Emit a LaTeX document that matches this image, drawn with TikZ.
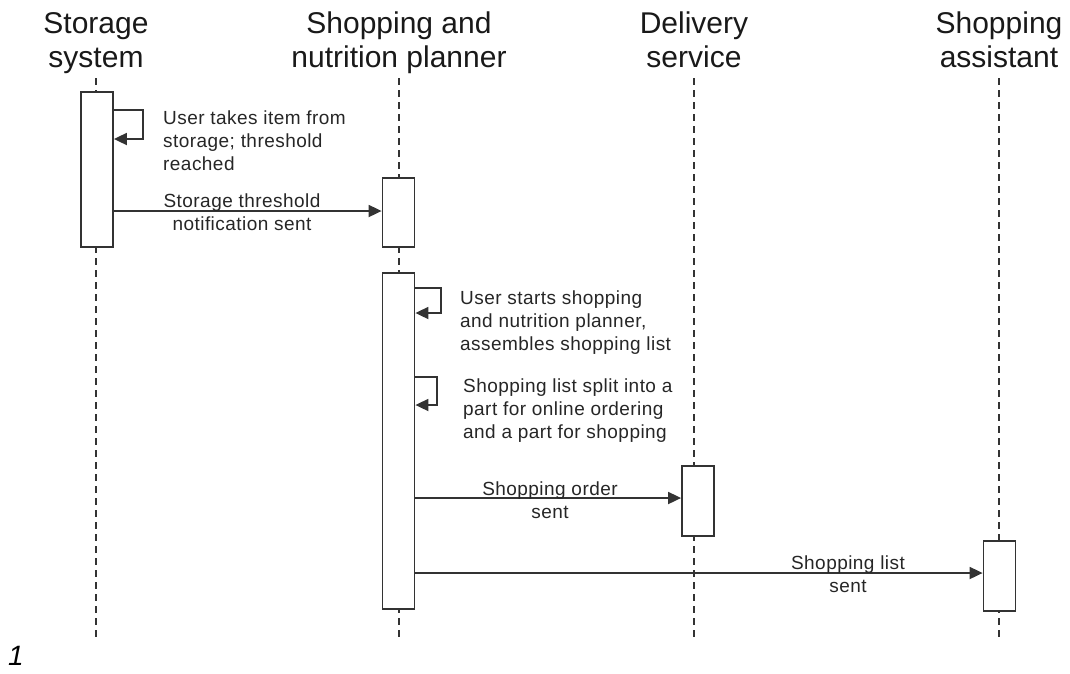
\documentclass[tikz,border=0pt]{standalone}
\usepackage{fontspec}
\setmainfont{Liberation Sans}
\usetikzlibrary{arrows.meta}
\begin{document}
\begin{tikzpicture}[x=1pt,y=-1pt,
  ink/.style={draw=black!80,line width=1.8pt},
  lifeline/.style={ink,dash pattern=on 7pt off 5pt},
  actbox/.style={ink,fill=white,rectangle,minimum width=32pt,inner sep=0pt,anchor=north},
  head/.style={align=center,anchor=north,text=black!90,inner sep=0pt,
    font=\fontsize{30}{34}\selectfont},
  msg/.style={ink,-{Triangle[length=13pt,width=12pt]}},
  lbl/.style={align=center,text=black!85,inner sep=0pt,
    font=\fontsize{19}{23}\selectfont\addfontfeatures{LetterSpace=2.4}},
  note/.style={lbl,align=left,anchor=north west}]
\useasboundingbox (0,0) rectangle (1070,673);

% participant headings (each line carries a strut so all headings align)
\node[head] (hA) at (96,9) {\strut Storage\\\strut system};
\node[head] (hB) at (399,9) {\strut Shopping and\\\strut nutrition planner};
\node[head] (hC) at (694,9) {\strut Delivery\\\strut service};
\node[head] (hD) at (999,9) {\strut Shopping\\\strut assistant};

% lifeline ends
\coordinate (tA) at (96,78);  \coordinate (bA) at (96,640);
\coordinate (tB) at (399,78); \coordinate (bB) at (399,640);
\coordinate (tC) at (694,78); \coordinate (bC) at (694,640);
\coordinate (tD) at (999,78); \coordinate (bD) at (999,640);
\draw[lifeline] (tA) -- (bA);
\draw[lifeline] (tB) -- (bB);
\draw[lifeline] (tC) -- (bC);
\draw[lifeline] (tD) -- (bD);

% activation bars
\node[actbox,minimum height=155pt] (sA) at (97,91) {};
\node[actbox,minimum height=69pt] (sB1) at (398.5,177) {};
\node[actbox,minimum height=336pt] (sB2) at (398.5,272) {};
\node[actbox,minimum height=70pt] (sC) at (698,465) {};
\node[actbox,minimum height=70pt] (sD) at (999.5,540) {};

% self message on the storage system
\coordinate (s1a) at (143,110);
\coordinate (s1b) at (143,139);
\draw[msg] (sA.east |- s1a) -- (s1a) -- (s1b) -- (sA.east |- s1b);
\node[note] (n1) at (163,111) {User takes item from\\storage; threshold\\reached};

% threshold notification
\draw[msg] (sA.east |- 0,211) -- (sB1.west |- 0,211);
\node[lbl] (l1) at (242,212) {Storage threshold\\notification sent};

% self messages on the planner
\coordinate (s2a) at (441,288);
\coordinate (s2b) at (441,313);
\draw[msg] (sB2.east |- s2a) -- (s2a) -- (s2b) -- (sB2.east |- s2b);
\node[note] (n2) at (460,291) {User starts shopping\\and nutrition planner,\\assembles shopping list};

\coordinate (s3a) at (437,377);
\coordinate (s3b) at (437,405);
\draw[msg] (sB2.east |- s3a) -- (s3a) -- (s3b) -- (sB2.east |- s3b);
\node[note] (n3) at (463,379) {Shopping list split into a\\part for online ordering\\and a part for shopping};

% order to delivery service
\draw[msg] (sB2.east |- 0,498) -- (sC.west |- 0,498);
\node[lbl] (l2) at (550,500) {Shopping order\\sent};

% list to shopping assistant
\draw[msg] (sB2.east |- 0,573) -- (sD.west |- 0,573);
\node[lbl] (l3) at (848,574) {Shopping list\\sent};

% figure number
\node[font=\fontsize{28}{30}\selectfont\itshape,inner sep=0pt] (num) at (16,656) {1};
\end{tikzpicture}
\end{document}
